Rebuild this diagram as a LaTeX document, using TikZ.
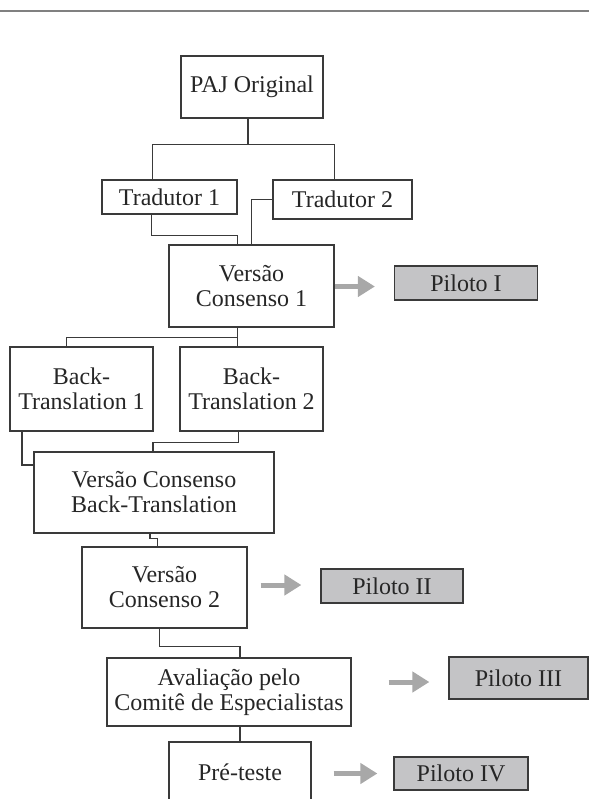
\documentclass[tikz,border=0pt]{standalone}
\usepackage{fontspec}
\setmainfont{Liberation Serif}
\usepackage{xcolor}
\usetikzlibrary{positioning,calc,arrows.meta}
\definecolor{linegray}{HTML}{3A3A3A}
\definecolor{pilotfill}{HTML}{C4C4C6}
\definecolor{arrowgray}{HTML}{A8A8A8}

\begin{document}
\begin{tikzpicture}[x=0.5pt, y=-0.5pt,
    box/.style={draw=linegray, line width=0.6pt, rectangle, align=center, inner sep=0pt, text=black!85, font=\fontsize{12}{12.5}\selectfont},
    pilot/.style={box, fill=pilotfill},
    link/.style={draw=linegray, line width=0.6pt},
    garrow/.style={draw=arrowgray, line width=2.5pt, -{Triangle[length=8.5pt,width=10pt]}}
]
    \useasboundingbox (0,0) rectangle (589,799);
    \clip (0,0) rectangle (589,799);
    \draw[draw=gray, line width=0.6pt] (0,11) -- (589,11);

    % Translation steps
    \node [box, minimum width=71pt, minimum height=31pt] (paj) at (252,87) {PAJ Original};
    \node [box, minimum width=67.5pt, minimum height=17pt] (trad1) at (169.5,197) {Tradutor 1};
    \node [box, minimum width=69.5pt, minimum height=19.5pt] (trad2) at (342.5,199.5) {Tradutor 2};
    \node [box, minimum width=82.5pt, minimum height=41pt] (vc1) at (251.5,286) {Versão\\Consenso 1};
    \node [box, minimum width=71.5pt, minimum height=42pt] (bt1) at (81.5,389) {Back-\\Translation 1};
    \node [box, minimum width=71.5pt, minimum height=42pt] (bt2) at (251.5,389) {Back-\\Translation 2};
    \node [box, minimum width=120pt, minimum height=40.5pt] (vcbt) at (154,492.5) {Versão Consenso\\Back-Translation};
    \node [box, minimum width=82.5pt, minimum height=40.5pt] (vc2) at (164.5,587.5) {Versão\\Consenso 2};
    \node [box, minimum width=122pt, minimum height=34pt] (aval) at (229,692) {Avaliação pelo\\Comitê de Especialistas};
    \node [box, minimum width=71pt, minimum height=30pt] (pre) at (240,772) {Pré-teste};

    % Pilots
    \node [pilot, minimum width=71.5pt, minimum height=17pt] (p1) at (466,283) {Piloto I};
    \node [pilot, minimum width=71pt, minimum height=17pt] (p2) at (392,586) {Piloto II};
    \node [pilot, minimum width=69.5pt, minimum height=21pt] (p3) at (518.5,678) {Piloto III};
    \node [pilot, minimum width=67pt, minimum height=16.5pt] (p4) at (461,773.5) {Piloto IV};

    % Connectors
    \draw[link] ([xshift=-2pt]paj.south) -- ++(0,26) coordinate (split);
    \draw[link] (split) -| ([xshift=-8.5pt]trad1.north);
    \draw[link] (split) -| ([xshift=-4pt]trad2.north);
    \draw[link] ([xshift=-9pt]trad1.south) -- ++(0,21) -| ([xshift=-7pt]vc1.north);
    \draw[link] (trad2.west) -| (vc1.north);
    \draw[link] ([xshift=-7pt]vc1.south) -- ([xshift=-7pt]bt2.north);
    \draw[link] ([xshift=-7pt,yshift=-5pt]vc1.south) -| ([xshift=-7.5pt]bt1.north);
    \draw[link] ([xshift=-29.75pt]bt1.south) |- ([yshift=13.75pt]vcbt.west);
    \draw[link] ([xshift=-6.5pt]bt2.south) -- ++(0,11) -| ([xshift=-0.5pt]vcbt.north);
    \draw[link] ([xshift=-2pt]vcbt.south) -- ++(0,5) -| ([xshift=-3.5pt]vc2.north);
    \draw[link] ([xshift=-2.5pt]vc2.south) -- ++(0,18) -| ([xshift=5.5pt]aval.north);
    \draw[link] ([xshift=5.5pt]aval.south) -- (pre.north);

    % Gray arrows
    \draw[garrow] ($(vc1.east |- p1.west)+(0,3.5)$) -- ($(p1.west)+(-19,3.5)$);
    \draw[garrow] ($(vc2.east |- p2.west)+(13,-1)$) -- ($(p2.west)+(-19,-1)$);
    \draw[garrow] ($(aval.east |- p3.west)+(37,4)$) -- ($(p3.west)+(-19,4)$);
    \draw[garrow] ($(pre.east |- p4.west)+(22,0)$) -- ($(p4.west)+(-16,0)$);
\end{tikzpicture}
\end{document}
